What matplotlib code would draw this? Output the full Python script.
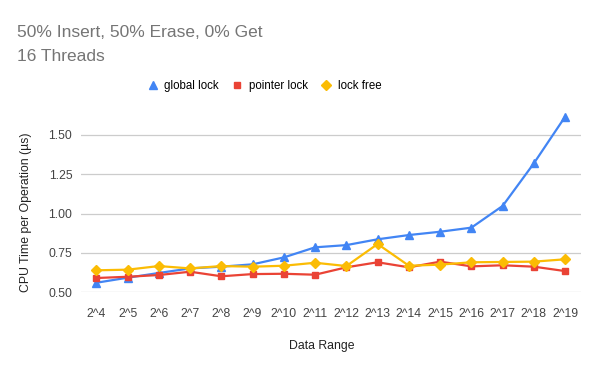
import matplotlib
matplotlib.use("Agg")
import matplotlib.pyplot as plt
import numpy as np

plt.rcParams["font.family"] = ["Liberation Sans", "DejaVu Sans"]

ranges = [f"2^{k}" for k in range(4, 20)]
global_lock = [0.561, 0.593, 0.623, 0.652, 0.663, 0.678, 0.722, 0.786,
               0.800, 0.837, 0.864, 0.885, 0.911, 1.049, 1.320, 1.616]
pointer_lock = [0.591, 0.599, 0.610, 0.631, 0.602, 0.616, 0.618, 0.612,
                0.659, 0.691, 0.659, 0.695, 0.665, 0.672, 0.663, 0.635]
lock_free = [0.640, 0.644, 0.667, 0.652, 0.667, 0.663, 0.669, 0.688,
             0.667, 0.807, 0.669, 0.676, 0.691, 0.693, 0.695, 0.710]
yticks = [0.50, 0.75, 1.00, 1.25, 1.50]

fig = plt.figure(figsize=(6, 3.71), dpi=100)
ax = fig.add_axes([0.1345, 0.212, 0.8335, 0.505])

x = np.arange(len(ranges))
series = [("global lock", global_lock, "#4285F4", "^", 5.5),
          ("pointer lock", pointer_lock, "#EA4335", "s", 5),
          ("lock free", lock_free, "#FBBC04", "D", 5)]
handles = []
for name, vals, col, mk, ms in series:
    h, = ax.plot(x, vals, color=col, marker=mk, markersize=ms, linewidth=1.6,
                 label=name, zorder=3)
    handles.append(h)

ax.set_xlim(-0.5, len(ranges) - 0.5)
ax.set_ylim(0.5, 1.69)
ax.set_xticks(x)
ax.set_xticklabels(ranges)
ax.set_yticks(yticks)
ax.set_yticklabels([f"{v:.2f}" for v in yticks])
ax.tick_params(length=0, labelsize=8.8, colors="#444444", pad=11)
ax.tick_params(axis="y", pad=6)
ax.grid(axis="y", color="#cccccc", linewidth=0.9)
ax.set_axisbelow(True)
for sp in ax.spines.values():
    sp.set_visible(False)

ax.set_xlabel("Data Range", fontsize=8.8, color="#222222")
ax.set_ylabel("CPU Time per Operation (µs)", fontsize=8.8, color="#222222")
ax.xaxis.set_label_coords(0.483, -0.255)
ax.yaxis.set_label_coords(-0.097, 0.425)

fig.text(0.028, 0.828, "50% Insert, 50% Erase, 0% Get\n16 Threads", fontsize=12.5,
         color="#757575", ha="left", va="bottom", linespacing=1.7)

fig.legend(handles=handles, loc="center", bbox_to_anchor=(0.44, 0.768), ncol=3,
           frameon=False, fontsize=8.3, handlelength=1.0, handletextpad=0.5,
           columnspacing=1.1)
for h in fig.legends[0].legend_handles:
    h.set_linestyle("none")

fig.savefig("out.png", dpi=100)
